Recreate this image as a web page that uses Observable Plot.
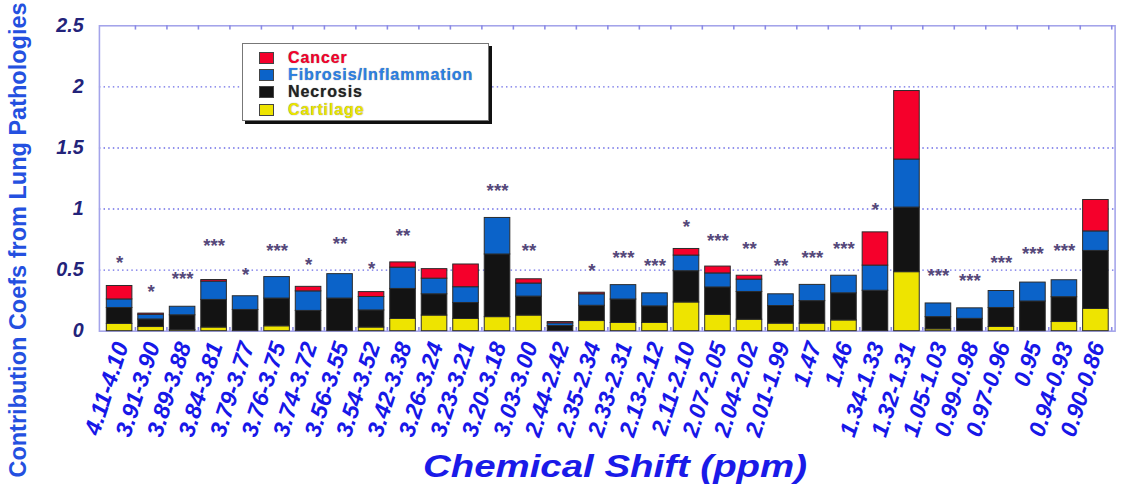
<!DOCTYPE html>
<html>
<head>
<meta charset="utf-8">
<script src="https://cdn.jsdelivr.net/npm/d3@7"></script>
<script src="https://cdn.jsdelivr.net/npm/@observablehq/plot@0.6"></script>
<style>
  html, body { margin: 0; padding: 0; background: #fff; overflow: hidden; }
  #wrap { position: relative; width: 1122px; height: 485px; overflow: hidden; font-family: "Liberation Sans", Arial, sans-serif; }
  #chart { position: absolute; left: 0; top: 0; }
  #ylabel { position: absolute; left: -222px; top: 226px; width: 480px; height: 28px; line-height: 28px;
    text-align: center; transform: rotate(-90deg); font-size: 23.5px; font-weight: bold; color: #2450e0; white-space: nowrap; }
  #xlabel { position: absolute; left: 415px; top: 448px; width: 400px; text-align: center; font-size: 32px;
    font-weight: bold; font-style: italic; color: #1a1ae8; transform: scaleX(1.2); white-space: nowrap; }
  #legend { position: absolute; left: 242px; top: 43px; width: 247px; height: 78px; border: 1px solid #777;
    box-shadow: 3px 3px 0 #111; background: #fff; box-sizing: border-box; padding-top: 5px; }
  .item { height: 17.3px; display: flex; align-items: center; }
  .sw { width: 15px; height: 12px; margin-left: 16px; margin-right: 14px; border: 1px solid #444; box-sizing: border-box; }
  .lt { font-size: 16px; font-weight: bold; letter-spacing: 0.9px; text-shadow: 0 0 1px rgba(0,0,0,0.55); }
</style>
</head>
<body>
<div id="wrap">
  <div id="chart"></div>
  <div id="legend"></div>
  <div id="ylabel">Contribution Coefs from Lung Pathologies</div>
  <div id="xlabel">Chemical Shift (ppm)</div>
</div>
<script>
const shifts = ["4.11-4.10","3.91-3.90","3.89-3.88","3.84-3.81","3.79-3.77","3.76-3.75","3.74-3.72","3.56-3.55",
  "3.54-3.52","3.42-3.38","3.26-3.24","3.23-3.21","3.20-3.18","3.03-3.00","2.44-2.42","2.35-2.34",
  "2.33-2.31","2.13-2.12","2.11-2.10","2.07-2.05","2.04-2.02","2.01-1.99","1.47","1.46",
  "1.34-1.33","1.32-1.31","1.05-1.03","0.99-0.98","0.97-0.96","0.95","0.94-0.93","0.90-0.86"];
const cartilage = [0.06,0.034,0.01,0.03,0,0.04,0,0, 0.03,0.10,0.128,0.10,0.115,0.128,0,0.083,
  0.067,0.067,0.235,0.134,0.094,0.062,0.062,0.088, 0,0.483,0.015,0,0.035,0,0.075,0.182];
const necrosis = [0.13,0.062,0.12,0.226,0.174,0.227,0.166,0.267, 0.14,0.246,0.174,0.131,0.513,0.155,0.042,0.125,
  0.192,0.136,0.256,0.224,0.227,0.144,0.184,0.222, 0.331,0.529,0.10,0.101,0.155,0.243,0.203,0.475];
const fibrosis = [0.07,0.038,0.07,0.15,0.112,0.176,0.16,0.20, 0.11,0.174,0.128,0.129,0.299,0.107,0.022,0.094,
  0.118,0.107,0.128,0.115,0.101,0.096,0.133,0.144, 0.206,0.393,0.112,0.086,0.139,0.155,0.139,0.16];
const cancer = [0.11,0.01,0,0.013,0,0,0.037,0, 0.04,0.043,0.078,0.186,0,0.035,0.011,0.013,
  0,0,0.054,0.056,0.032,0,0,0, 0.272,0.561,0,0,0,0,0,0.257];
const starText = ["*","*","***","***","*","***","*","**", "*","**","","","***","**","","*",
  "***","***","*","***","**","**","***","***", "*","","***","***","***","***","***",""];
const starLevel = [0.6,0.36,0.47,0.74,0.50,0.70,0.58,0.75, 0.55,0.82,0,0,1.19,0.70,0,0.53,
  0.64,0.575,0.895,0.78,0.715,0.575,0.64,0.715, 1.035,0,0.49,0.45,0.60,0.67,0.695,0];
const seriesNames = ["Cancer","Fibrosis/Inflammation","Necrosis","Cartilage"];
const seriesColors = ["#f5002b","#0b63c9","#131313","#eee400"];
const legendTextColors = ["#f5002b","#2b80e6","#222222","#ece400"];
const yTicks = [0,0.5,1,1.5,2,2.5];
const gridValues = [0.5,1,1.5,2];

const rows = [];
shifts.forEach((s, i) => {
  [["Cartilage", cartilage], ["Necrosis", necrosis], ["Fibrosis/Inflammation", fibrosis], ["Cancer", cancer]]
    .forEach(([name, arr]) => { if (arr[i] > 0) rows.push({shift: s, type: name, value: arr[i]}); });
});
const starRows = shifts.map((s, i) => ({shift: s, text: starText[i], level: starLevel[i]})).filter(d => d.text);

const plot = Plot.plot({
  width: 1140,
  height: 485,
  marginLeft: 100.5,
  marginRight: 7.5,
  marginTop: 25.7,
  marginBottom: 149,
  style: {background: "transparent", fontFamily: "'Liberation Sans', Arial, sans-serif"},
  x: {domain: shifts, paddingInner: 0.2, paddingOuter: 0.1, axis: null},
  y: {domain: [0, 2.5], axis: null},
  color: {domain: seriesNames, range: seriesColors},
  marks: [
    Plot.ruleY(gridValues, {stroke: "#6c6ce6", strokeWidth: 1.4, strokeDasharray: "1.5 3.2"}),
    Plot.frame({stroke: "#a4a4ea", strokeWidth: 1.6}),
    Plot.ruleX(shifts, {x: d => d, dx: 16.1, y1: 2.5, y2: 2.465, stroke: "#8a8ae6", strokeWidth: 1.6}),
    Plot.ruleX(shifts, {x: d => d, dx: 16.1, y1: 0, y2: 0.03, stroke: "#8a8ae6", strokeWidth: 1.6}),
    Plot.barY(rows, {x: "shift", y: "value", fill: "type", order: ["Cartilage","Necrosis","Fibrosis/Inflammation","Cancer"],
      stroke: "#2a2a2a", strokeWidth: 1}),
    Plot.text(starRows, {x: "shift", y: "level", text: "text", fill: "#55487a", fontSize: 19, fontWeight: "bold", dy: 5}),
    Plot.axisY({ticks: yTicks, tickFormat: d => String(d), tickSize: 0, tickPadding: 16, fontSize: 20,
      fontWeight: "bold", fontStyle: "italic", color: "#23237a", label: null}),
    Plot.text(shifts, {x: d => d, frameAnchor: "bottom", text: d => d, rotate: -72, textAnchor: "end", lineAnchor: "middle",
      dx: 2, dy: 12, fontSize: 23.5, fontWeight: "bold", fontStyle: "italic", fill: "#1717e8"})
  ]
});
document.getElementById("chart").appendChild(plot);

const legend = document.getElementById("legend");
seriesNames.forEach((n, i) => {
  const it = document.createElement("div");
  it.className = "item";
  it.innerHTML = `<div class="sw" style="background:${seriesColors[i]}"></div><span class="lt" style="color:${legendTextColors[i]}">${n}</span>`;
  legend.appendChild(it);
});
</script>
</body>
</html>
